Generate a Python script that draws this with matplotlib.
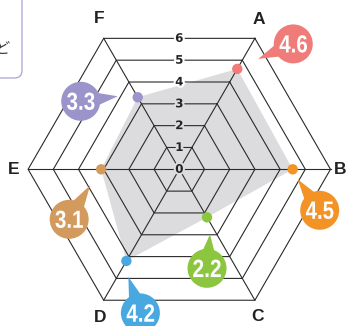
import numpy as np
import matplotlib.pyplot as plt
from matplotlib.patches import Circle, Polygon, FancyBboxPatch, PathPatch
from matplotlib.path import Path
from matplotlib.textpath import TextPath
from matplotlib.font_manager import FontProperties
from matplotlib.transforms import Affine2D
import matplotlib.patheffects as pe

categories = ['A', 'B', 'C', 'D', 'E', 'F']
values = [4.6, 4.5, 2.2, 4.2, 3.1, 3.3]
levels = [0, 1, 2, 3, 4, 5, 6]
colors = ['#F07C7A', '#F39325', '#8CC63F', '#4AA8E0', '#D39A5E', '#9A94CA']

# layout
axis_angles = np.radians([60, 0, -60, -120, 180, 120])
label_angles = np.radians([62, 0, -62, -118, 180, 118])
label_radii = [6.72, 6.4, 6.62, 6.68, 6.58, 6.78]
# bubble centre / tail tip offsets from each point, in pixels
bubble_offsets = [(56, 25), (27, -41), (0, -51), (14, -52), (-32, -50), (-57, -4)]
tip_offsets = [(21, 10), (5, -10), (3, -17), (2, -16), (-11, -16), (-20, 1)]

S = 25.2          # pixels per unit
cx, cy = 179.3, 169.3
W, H = 346, 326
gray = '#dcdcde'

fig = plt.figure(figsize=(W / 100, H / 100), dpi=100)
ax = fig.add_axes([0, 0, 1, 1])
ax.set_xlim(-cx / S, (W - cx) / S)
ax.set_ylim(-(H - cy) / S, cy / S)
ax.axis('off')

cosa, sina = np.cos(axis_angles), np.sin(axis_angles)
vals = np.array(values)
px, py = vals * cosa, vals * sina

# filled data polygon
poly = Polygon(np.column_stack([px, py]), closed=True, facecolor=gray,
               edgecolor='none', zorder=1)
ax.add_patch(poly)

# hexagon grid
for lv in levels[1:]:
    ax.plot(np.append(lv * cosa, lv * cosa[0]), np.append(lv * sina, lv * sina[0]),
            color='#2a2a2a', lw=0.8, zorder=2)
top = levels[-1]
for c, s in zip(cosa, sina):
    ax.plot([0, top * c], [0, top * s], color='#2a2a2a', lw=0.8, zorder=2)

# level numbers along the vertical
data_path = Path(np.column_stack([px, py]))
for lv in levels:
    y = lv * np.sqrt(3) / 2
    bg = gray if data_path.contains_point((0, y + 0.01)) else 'white'
    ax.text(0, y, str(lv), ha='center', va='center', fontsize=8.5,
            fontweight='bold', color='#222222', zorder=3,
            path_effects=[pe.withStroke(linewidth=3, foreground=bg)])

# category labels
for cat, a, r in zip(categories, label_angles, label_radii):
    ax.text(r * np.cos(a), r * np.sin(a), cat, ha='center', va='center',
            fontsize=12.5, fontfamily='Liberation Sans', fontweight='bold',
            color='#222222')

# points
ax.scatter(px, py, s=56, c=colors, zorder=4, linewidths=0)

# callout bubbles, numbers drawn narrow like a condensed face
fp = FontProperties(family='Liberation Sans', weight='bold')
R = 19.5 / S
for x, y, v, col, bo, to in zip(px, py, values, colors, bubble_offsets, tip_offsets):
    bx, by = x + bo[0] / S, y + bo[1] / S
    tx, ty = x + to[0] / S, y + to[1] / S
    d = np.array([tx - bx, ty - by])
    d = d / np.hypot(*d)
    n = np.array([-d[1], d[0]])
    base = np.array([bx, by]) + d * R * 0.55
    tail = Polygon([base + n * R * 0.42, base - n * R * 0.42, (tx, ty)],
                   closed=True, facecolor=col, edgecolor='none', zorder=5)
    ax.add_patch(tail)
    ax.add_patch(Circle((bx, by), R, facecolor=col, edgecolor='none', zorder=5))

    tp = TextPath((0, 0), f'{v:.1f}', size=1, prop=fp)
    bb = tp.get_extents()
    sy = (17.5 / S) / bb.height
    sx = (27.5 / S) / bb.width
    tr = (Affine2D().translate(-(bb.x0 + bb.x1) / 2, -(bb.y0 + bb.y1) / 2)
          .scale(sx, sy).translate(bx, by))
    ax.add_patch(PathPatch(tr.transform_path(tp), facecolor='white',
                           edgecolor='none', zorder=6))

# cropped note box at the top left
box = FancyBboxPatch(((-30 - cx) / S, (cy - 78) / S), 52 / S, 110 / S,
                     boxstyle='round,pad=0,rounding_size=0.3',
                     facecolor='none', edgecolor='#a9a4d6', lw=0.9, zorder=1)
ax.add_patch(box)
ax.text((2 - cx) / S, (cy - 48) / S, 'ど', ha='center', va='center', fontsize=11,
        fontfamily=['Noto Sans CJK JP', 'DejaVu Sans'], color='#333333')

fig.savefig('out.png', dpi=100)
